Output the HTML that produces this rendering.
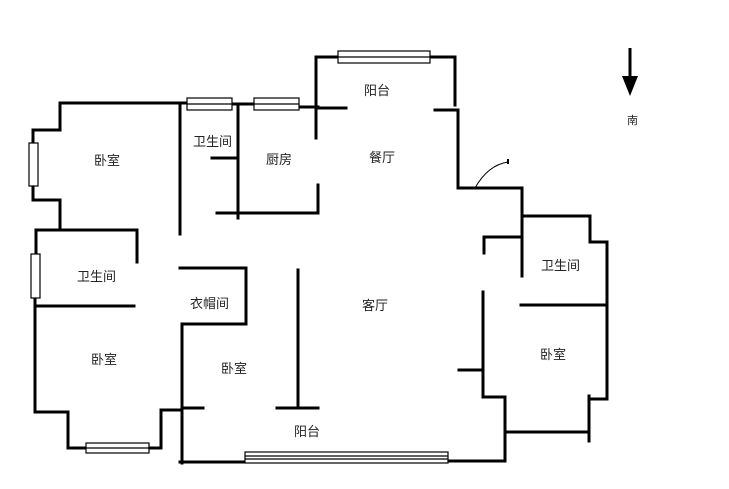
<!DOCTYPE html>
<html><head><meta charset="utf-8"><style>
html,body{margin:0;padding:0;background:#fff;}
svg{display:block}
text{font-family:"Liberation Sans","Noto Sans CJK SC",sans-serif;font-size:13px;fill:#222;}
</style></head><body>
<svg width="729" height="489" viewBox="0 0 729 489" xmlns="http://www.w3.org/2000/svg">
<g stroke="#000" stroke-width="3" fill="none" stroke-linecap="square">
<!-- left bedroom -->
<polyline points="183,103 60,103 60,130 33,130 33,143"/>
<polyline points="33,186 33,200 60,200 60,230"/>
<polyline points="137,262 137,230 36,230 36,254"/>
<polyline points="35,298 35,412 68,412 68,448 86,448"/>
<polyline points="149,448 161,448 161,410 180,410"/>
<line x1="35" y1="306" x2="134" y2="306"/>
<line x1="180" y1="103" x2="180" y2="234"/>
<line x1="183" y1="103" x2="187" y2="103"/>
<line x1="232" y1="104" x2="254" y2="104"/>
<line x1="299" y1="107" x2="318" y2="107"/>
<line x1="238" y1="107" x2="238" y2="218"/>
<line x1="212" y1="158" x2="235" y2="158"/>
<polyline points="217,213 318,213 318,185"/>
<line x1="316" y1="57" x2="316" y2="138"/>
<line x1="316" y1="108" x2="346" y2="108"/>
<line x1="316" y1="57" x2="338" y2="57"/>
<line x1="430" y1="57" x2="455" y2="57"/>
<line x1="455" y1="59" x2="455" y2="105"/>
<polyline points="435,110 458,110 458,188 522,188 522,276"/>
<polyline points="522,216 590,216 590,242 607,242 607,399 589,399"/>
<line x1="589" y1="396" x2="589" y2="441"/>
<polyline points="505,397 505,432 589,432"/>
<line x1="505" y1="432" x2="505" y2="461"/>
<line x1="448" y1="461" x2="505" y2="461"/>
<polyline points="484,253 484,237 520,237"/>
<polyline points="483,292 483,397 505,397"/>
<line x1="459" y1="370" x2="483" y2="370"/>
<line x1="521" y1="305" x2="604" y2="305"/>
<!-- center -->
<polyline points="180,268 246,268 246,324 182,324 182,463"/>
<line x1="182" y1="408" x2="203" y2="408"/>
<line x1="298" y1="270" x2="298" y2="408"/>
<line x1="277" y1="408" x2="318" y2="408"/>
<line x1="180" y1="462" x2="245" y2="462"/>
</g>
<!-- windows -->
<g stroke="#000" stroke-width="1.2" fill="#fff">
<rect x="187" y="98" width="45" height="12"/>
<line x1="187" y1="104" x2="232" y2="104"/>
<rect x="254" y="98" width="45" height="12"/>
<line x1="254" y1="104" x2="299" y2="104"/>
<rect x="338" y="51" width="92" height="12"/>
<line x1="338" y1="57" x2="430" y2="57"/>
<rect x="29" y="143" width="9" height="43"/>
<rect x="31" y="254" width="9" height="44"/>
<rect x="86" y="443" width="63" height="10"/>
<line x1="86" y1="448" x2="149" y2="448"/>
<rect x="245" y="452" width="203" height="11"/>
<line x1="245" y1="456" x2="448" y2="456"/>
<line x1="245" y1="459" x2="448" y2="459"/>
</g>
<path d="M475,188 Q488,165 508,162" stroke="#000" stroke-width="1" fill="none"/>
<line x1="508" y1="159" x2="508" y2="164" stroke="#000" stroke-width="2"/>
<!-- arrow -->
<line x1="630" y1="48" x2="630" y2="80" stroke="#000" stroke-width="3"/>
<polygon points="622,76 638,76 630,96" fill="#000"/>
<text x="627" y="124" style="font-size:11px">南</text>
<!-- labels -->
<text x="364" y="95">阳台</text>
<text x="94" y="165">卧室</text>
<text x="193" y="146">卫生间</text>
<text x="266" y="164">厨房</text>
<text x="369" y="162">餐厅</text>
<text x="77" y="281">卫生间</text>
<text x="190" y="308">衣帽间</text>
<text x="362" y="310">客厅</text>
<text x="91" y="364">卧室</text>
<text x="221" y="373">卧室</text>
<text x="294" y="436">阳台</text>
<text x="541" y="270">卫生间</text>
<text x="540" y="359">卧室</text>
</svg>
</body></html>
